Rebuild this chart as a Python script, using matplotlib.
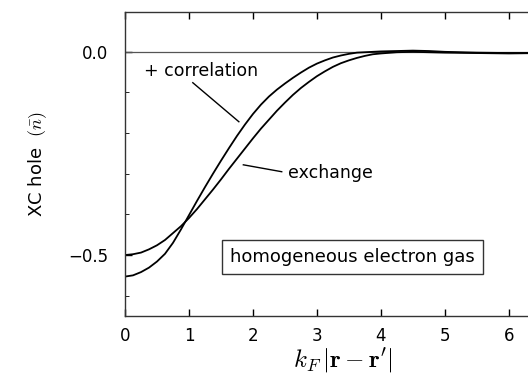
import matplotlib
matplotlib.use("Agg")
import matplotlib.pyplot as plt
from matplotlib.ticker import MultipleLocator

plt.rcParams['mathtext.fontset'] = 'cm'

# distance k_F|r - r'|
kr = [0.0, 0.125, 0.25, 0.375, 0.5, 0.625, 0.75, 0.875, 1.0, 1.125, 1.25, 1.375,
      1.5, 1.625, 1.75, 1.875, 2.0, 2.125, 2.25, 2.375, 2.5, 2.625, 2.75, 2.875,
      3.0, 3.125, 3.25, 3.375, 3.5, 3.625, 3.75, 3.875, 4.0, 4.25, 4.5, 4.75,
      5.0, 5.5, 6.0, 6.5]
# exchange-only hole
exchange = [-0.500, -0.498, -0.494, -0.486, -0.476, -0.463, -0.446, -0.429,
            -0.409, -0.387, -0.363, -0.339, -0.314, -0.288, -0.263, -0.238,
            -0.213, -0.189, -0.167, -0.145, -0.125, -0.106, -0.089, -0.074,
            -0.060, -0.048, -0.037, -0.028, -0.021, -0.015, -0.010, -0.006,
            -0.004, -0.001, 0.000, -0.001, -0.002, -0.003, -0.004, -0.003]
# exchange + correlation hole
xc = [-0.553, -0.550, -0.542, -0.531, -0.516, -0.497, -0.470, -0.437,
      -0.402, -0.367, -0.333, -0.300, -0.268, -0.237, -0.207, -0.179,
      -0.153, -0.130, -0.110, -0.093, -0.078, -0.064, -0.051, -0.039,
      -0.029, -0.021, -0.014, -0.009, -0.005, -0.002, -0.001, 0.000,
      0.001, 0.002, 0.003, 0.002, 0.000, -0.002, -0.003, -0.003]

fig = plt.figure(figsize=(5.28, 3.75), dpi=100)
ax = fig.add_axes([125 / 528, 1 - 316 / 375, 403 / 528, 304 / 375])

ax.axhline(0.0, color='#555555', lw=0.9)
ax.plot(kr, exchange, color='black', lw=1.3)
ax.plot(kr, xc, color='black', lw=1.3)

ax.set_xlim(0, 6.3)
ax.set_ylim(-0.65, 0.098)
ax.xaxis.set_major_locator(MultipleLocator(1))
ax.yaxis.set_major_locator(MultipleLocator(0.5))
ax.yaxis.set_minor_locator(MultipleLocator(0.1))
ax.yaxis.set_major_formatter(plt.FuncFormatter(lambda v, p: f'{v:.1f}'.replace('-', '\u2212')))
ax.tick_params(axis='both', direction='in', labelsize=12, length=5, width=1)
ax.tick_params(axis='x', top=True, pad=8)
ax.tick_params(axis='y', which='minor', direction='in', length=3)
ax.tick_params(axis='y', pad=12)
ax.spines['right'].set_visible(False)
for s in ['left', 'bottom', 'top']:
    ax.spines[s].set_linewidth(1.0)
    ax.spines[s].set_color('#333333')

ax.set_xlabel(r"$k_F\,|\mathbf{r}-\mathbf{r}'|$", fontsize=18)
ax.xaxis.set_label_coords(0.54, -0.098)
ax.set_ylabel(r"XC hole  $(\bar{n})$", fontsize=13, labelpad=14)

ax.text(0.3, -0.047, '+ correlation', fontsize=12.5, va='center', ha='left')
ax.plot([1.06, 1.78], [-0.076, -0.172], color='black', lw=1.0)
ax.text(2.55, -0.298, 'exchange', fontsize=12.5, va='center', ha='left')
ax.plot([1.85, 2.45], [-0.278, -0.295], color='black', lw=1.0)

ax.text(3.56, -0.505, 'homogeneous electron gas', fontsize=13, ha='center', va='center',
        bbox=dict(boxstyle='square,pad=0.45', fc='white', ec='#333333', lw=1.0))

fig.savefig('out.png', dpi=100)
